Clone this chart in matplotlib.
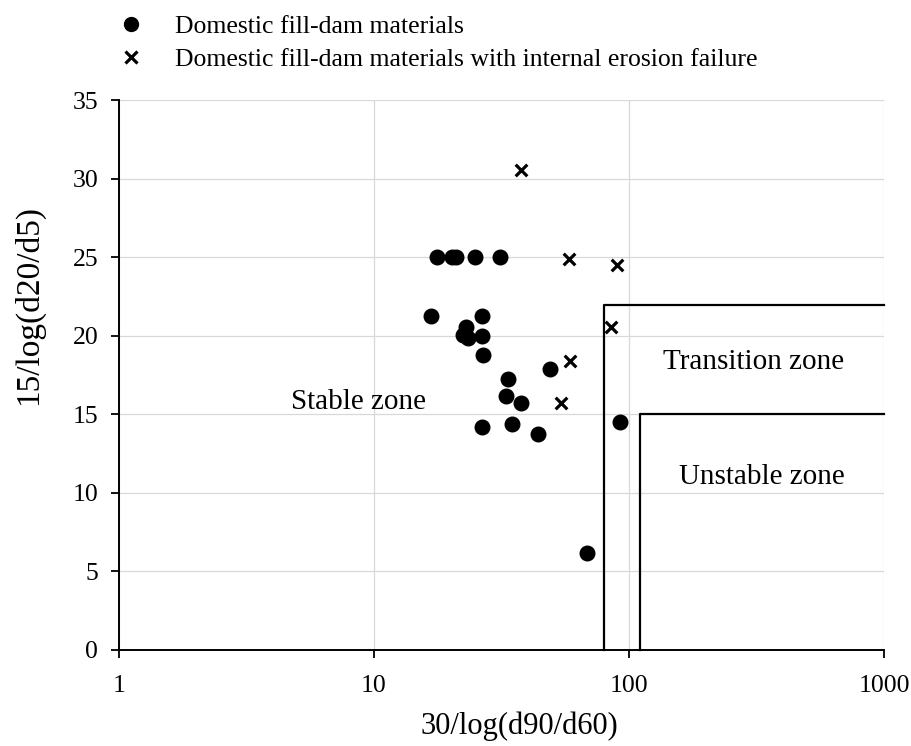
import numpy as np
import matplotlib
matplotlib.use("Agg")
import matplotlib.pyplot as plt
from matplotlib.lines import Line2D

plt.rcParams['font.family'] = ['Liberation Serif', 'DejaVu Serif']

# domestic fill-dam materials (circles)
dam_x = [17.6, 20.3, 20.9, 24.9, 31.2, 16.7, 26.6, 22.9, 22.4, 23.4, 26.6, 26.8,
         49.0, 33.4, 32.8, 37.7, 26.6, 34.9, 43.8, 92.2, 68.7]
dam_y = [25.0, 25.0, 25.0, 25.0, 25.0, 21.3, 21.3, 20.6, 20.06, 19.85, 20.0, 18.8,
         17.9, 17.24, 16.2, 15.75, 14.2, 14.4, 13.76, 14.55, 6.16]

# materials with internal erosion failure (crosses)
fail_x = [37.7, 58.2, 89.5, 85.0, 58.7, 54.0]
fail_y = [30.6, 24.9, 24.5, 20.6, 18.4, 15.7]

# zone boundaries
trans_x, trans_y = 80, 22
unst_x, unst_y = 110, 15

fig = plt.figure(figsize=(9.12, 7.46), dpi=100)
ax = fig.add_axes([0.1305, 0.1287, 0.8388, 0.7366])

ax.set_xscale('log')
ax.set_xlim(1, 1000)
ax.set_ylim(0, 35)
ax.set_xticks([1, 10, 100, 1000])
ax.set_xticklabels(['1', '10', '100', '1000'])
ax.xaxis.set_minor_locator(matplotlib.ticker.NullLocator())
ax.set_yticks(np.arange(0, 36, 5))

ax.grid(True, color='#d8d8dc', linewidth=0.9)
ax.set_axisbelow(True)
for s in ['top', 'right']:
    ax.spines[s].set_visible(False)
for s in ['left', 'bottom']:
    ax.spines[s].set_linewidth(1.4)
    ax.spines[s].set_color('black')
ax.tick_params(axis='both', direction='out', length=6, width=1.3,
               labelsize=18.5, pad=9)
ax.tick_params(axis='x', pad=12)

# zone lines
ax.plot([trans_x, trans_x, 1000], [0, trans_y, trans_y], color='black', lw=1.6,
        clip_on=False)
ax.plot([unst_x, unst_x, 1000], [0, unst_y, unst_y], color='black', lw=1.6,
        clip_on=False)

ax.scatter(dam_x, dam_y, s=110, marker='o', color='black', zorder=5)
ax.scatter(fail_x, fail_y, s=70, marker='x', color='black', linewidths=2.3, zorder=5)

ax.text(8.7, 15.8, 'Stable zone', fontsize=21, ha='center', va='center')
ax.text(308, 18.36, 'Transition zone', fontsize=21, ha='center', va='center')
ax.text(331, 11.04, 'Unstable zone', fontsize=21, ha='center', va='center')

ax.set_xlabel('30/log(d90/d60)', fontsize=22)
ax.set_ylabel('15/log(d20/d5)', fontsize=24)
ax.xaxis.set_label_coords(0.523, -0.112)
ax.yaxis.set_label_coords(-0.098, 0.627)

handles = [
    Line2D([], [], marker='o', color='black', linestyle='none', markersize=10),
    Line2D([], [], marker='x', color='black', linestyle='none', markersize=8,
           markeredgewidth=2.3),
]
labels = ['Domestic fill-dam materials',
          'Domestic fill-dam materials with internal erosion failure']
fig.legend(handles, labels, loc='upper left', bbox_to_anchor=(0.13, 0.98),
           frameon=False, fontsize=18.5, handlelength=1.0, handletextpad=1.2,
           labelspacing=0.4, borderpad=0, borderaxespad=0)

fig.savefig('out.png', dpi=100)
